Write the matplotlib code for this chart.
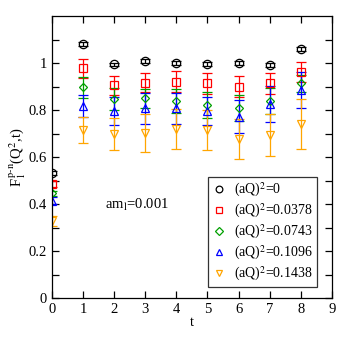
import numpy as np
import matplotlib
matplotlib.use('Agg')
import matplotlib.pyplot as plt
from matplotlib.lines import Line2D

# time slices
t = [0, 1, 2, 3, 4, 5, 6, 7, 8]

# form factor values per momentum transfer
f_q0 = [0.533, 1.080, 0.994, 1.009, 1.001, 0.996, 0.999, 0.993, 1.060]
e_q0 = [0.008, 0.008, 0.008, 0.008, 0.008, 0.008, 0.008, 0.008, 0.010]
f_q1 = [0.484, 0.977, 0.906, 0.916, 0.920, 0.913, 0.899, 0.913, 0.963]
e_q1 = [0.012, 0.040, 0.040, 0.040, 0.045, 0.045, 0.045, 0.045, 0.043]
f_q2 = [0.445, 0.896, 0.847, 0.850, 0.838, 0.821, 0.810, 0.838, 0.913]
e_q2 = [0.012, 0.043, 0.045, 0.040, 0.050, 0.055, 0.055, 0.055, 0.035]
f_q3 = [0.414, 0.817, 0.796, 0.807, 0.807, 0.796, 0.772, 0.826, 0.885]
e_q3 = [0.015, 0.046, 0.060, 0.065, 0.067, 0.060, 0.070, 0.075, 0.075]
f_q4 = [0.328, 0.715, 0.697, 0.703, 0.718, 0.715, 0.675, 0.694, 0.740]
e_q4 = [0.020, 0.055, 0.068, 0.080, 0.085, 0.085, 0.085, 0.090, 0.105]

labels = ['(aQ)$^2$=0', '(aQ)$^2$=0.0378', '(aQ)$^2$=0.0743',
          '(aQ)$^2$=0.1096', '(aQ)$^2$=0.1438']
colors = ['black', 'red', '#00a000', 'blue', 'orange']
markers = ['o', 's', 'D', '^', 'v']
sizes = [6, 6, 4.5, 6, 6]

plt.rcParams['font.family'] = ['Liberation Serif', 'DejaVu Serif']
plt.rcParams['mathtext.fontset'] = 'stix'

fig = plt.figure(figsize=(3.49, 3.49), dpi=100)
ax = fig.add_axes([0.149, 0.146, 0.802, 0.808])

series = [(f_q0, e_q0), (f_q1, e_q1), (f_q2, e_q2), (f_q3, e_q3), (f_q4, e_q4)]
handles = []
for (f, e), lab, c, m, s in zip(series, labels, colors, markers, sizes):
    ax.errorbar(t, f, yerr=e, fmt=m, color=c, mfc='none', mec=c, ms=s,
                mew=0.9, elinewidth=0.9, capsize=3.5, capthick=0.9)
    handles.append(Line2D([], [], ls='none', marker=m, mfc='none', mec=c,
                          ms=s * 0.8, mew=0.9, label=lab))

ax.set_xlim(0, 9)
ax.set_ylim(0, 1.2)
ax.set_xticks(range(10))
ax.set_yticks([0, 0.2, 0.4, 0.6, 0.8, 1.0])
ax.set_yticklabels(['0', '0.2', '0.4', '0.6', '0.8', '1'])
ax.set_yticks(np.arange(0.1, 1.2, 0.2), minor=True)
ax.tick_params(which='both', direction='in', top=True, right=True,
               labelsize=10.5, length=5, width=0.9)
ax.tick_params(axis='x', which='minor', top=False, bottom=False)
for sp in ax.spines.values():
    sp.set_linewidth(0.9)

ax.set_xlabel('t', fontsize=10.5, labelpad=0)
ax.set_ylabel('F$_1^{\\,\\mathrm{p\\text{-}n}}$(Q$^2$,t)', fontsize=10.5, labelpad=1)
ax.text(1.7, 0.38, 'am$_\\mathrm{l}$=0.001', fontsize=10.5)

leg = ax.legend(handles=handles, loc='lower right', bbox_to_anchor=(0.946, 0.039),
                fontsize=10, frameon=True, fancybox=False, edgecolor='black',
                handlelength=1.0, handletextpad=0.6, borderpad=0.3,
                labelspacing=0.2, borderaxespad=0)
leg.get_frame().set_linewidth(0.9)

fig.savefig('out.png', dpi=100)
